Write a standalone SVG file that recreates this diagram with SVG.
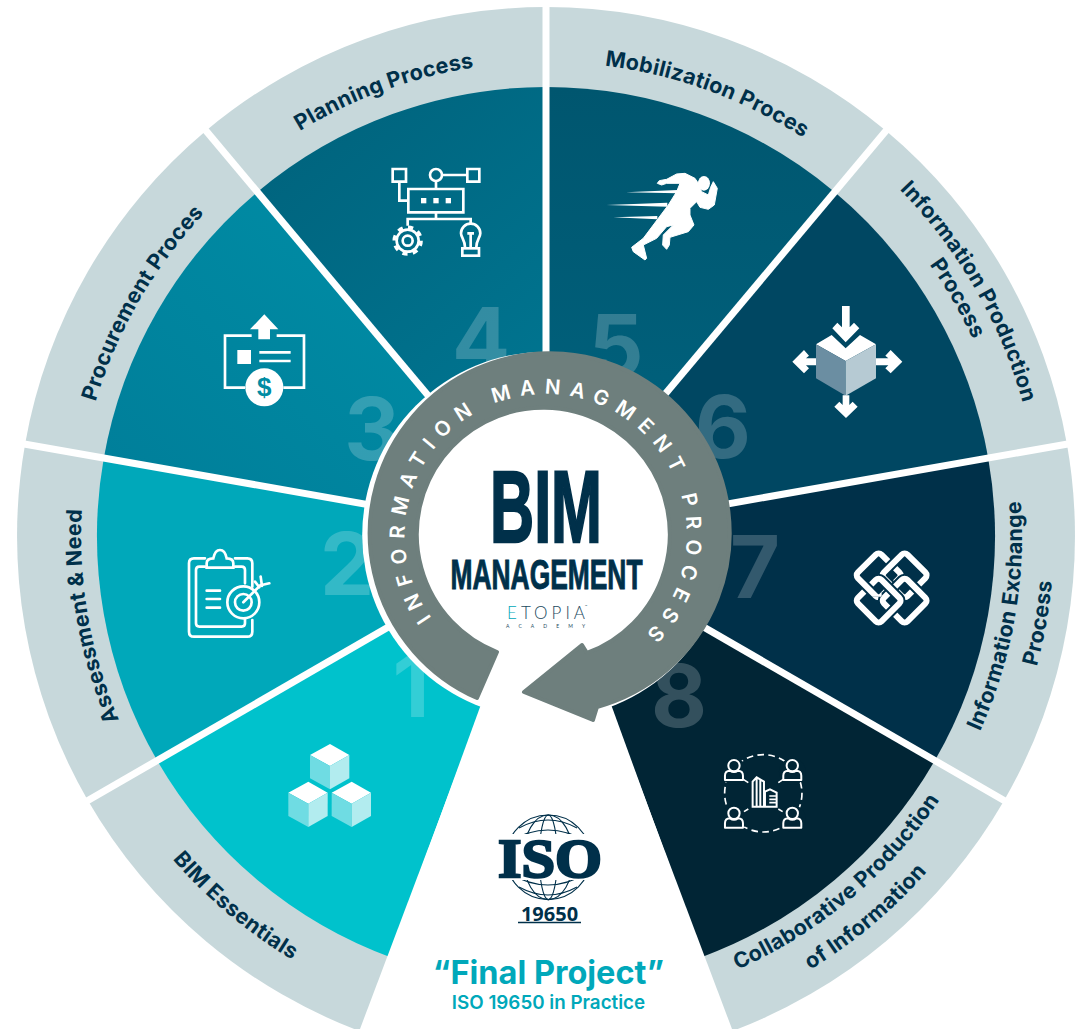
<svg xmlns="http://www.w3.org/2000/svg" width="1085" height="1029" viewBox="0 0 1085 1029">
<style>
.band{fill:#c7d8db}
.lab{font-family:"Inter","Noto Sans",sans-serif;font-weight:700;font-size:21.5px;letter-spacing:.3px;fill:#00304a;text-anchor:middle}
.num{font-family:"Inter","Noto Sans",sans-serif;font-weight:700;font-size:86px;fill:#fff;fill-opacity:.2;text-anchor:middle}
.ln{fill:none;stroke:#fff;stroke-width:8;stroke-linejoin:miter}
.wf{fill:#fff}
.halo{fill:none;stroke:#003049;stroke-width:30}
.loop{fill:none;stroke:#fff;stroke-width:18}
</style>
<defs>
<path id="wb" d="M0,0 L0,-529 A529,529 0 0 1 340,-405.2 Z"/>
<path id="wc" d="M0,0 L0,-449 A449,449 0 0 1 288.6,-344 Z"/>
<path id="c474" d="M-304.7,-363.1 A474,474 0 0 1 304.7,-363.1"/>
<path id="c470" d="M-302.1,-360 A470,470 0 0 1 302.1,-360"/>
<path id="c465" d="M-298.9,-356.2 A465,465 0 0 1 298.9,-356.2"/>
<path id="c495" d="M-318.2,-379.2 A495,495 0 0 1 318.2,-379.2"/>
<path id="a494" d="M-317.5,378.4 A494,494 0 0 0 317.5,378.4"/>
<path id="a474" d="M-304.7,363.1 A474,474 0 0 0 304.7,363.1"/>
<path id="a508" d="M-326.5,389.1 A508,508 0 0 0 326.5,389.1"/>
<path id="a476" d="M-306,364.6 A476,476 0 0 0 306,364.6"/>
<path id="ringp" d="M-24.5,138.9 A141,141 0 1 1 24.5,138.9"/>
<linearGradient id="g3" x1="0" y1="0" x2="1" y2="1"><stop offset="0" stop-color="#007f9a"/><stop offset="1" stop-color="#0090a8"/></linearGradient>
<linearGradient id="g4" x1="0" y1="0" x2="0" y2="1"><stop offset="0" stop-color="#00657f"/><stop offset="1" stop-color="#007a96"/></linearGradient>
<linearGradient id="g5" x1="0" y1="0" x2="0" y2="1"><stop offset="0" stop-color="#00566f"/><stop offset="1" stop-color="#006480"/></linearGradient>
<clipPath id="gl"><rect x="500" y="805" width="100" height="29"/><rect x="500" y="880" width="100" height="30"/></clipPath>
<clipPath id="weave"><rect x="215" y="870" width="90" height="50"/></clipPath>
<rect id="lp" x="-50" y="-50" width="100" height="100" rx="12"/>
<g id="cube">
<polygon points="180,42 238,75 180,108 120,75" fill="#fff"/>
<polygon points="120,75 180,108 180,178 120,145" fill="#6fdce3"/>
<polygon points="180,108 238,75 238,145 180,178" fill="#b2ecef"/>
</g>
<g id="person" fill="none" stroke="#fff" stroke-width="6">
<circle cx="0" cy="-15" r="17"/>
<path d="M-27,28 V15 Q-27,0 -12,0 Q0,8 12,0 Q27,0 27,15 V28 Z" stroke-linejoin="round"/>
</g>
</defs>
<rect width="1085" height="1029" fill="#fff"/>

<g id="node-1">
<use href="#wb" class="band" transform="translate(546,536) rotate(-160)"/>
<use href="#wc" fill="#00c2cc" transform="translate(546,536) rotate(-160)"/>
<text class="num" x="411" y="717">1</text>
<text class="lab" transform="translate(546,536) rotate(40)"><textPath href="#a494" startOffset="50%">BIM Essentials</textPath></text>
<g transform="translate(270,730) scale(.3333)">
<use href="#cube"/><use href="#cube" x="-65" y="113"/><use href="#cube" x="65" y="113"/>
</g>
</g>

<g id="node-2">
<use href="#wb" class="band" transform="translate(546,536) rotate(-120)"/>
<use href="#wc" fill="#00a8ba" transform="translate(546,536) rotate(-120)"/>
<text class="num" x="347" y="595">2</text>
<text class="lab" transform="translate(546,536) rotate(-100)"><textPath href="#c465" startOffset="50%">Assessment &amp; Need</textPath></text>
<g transform="translate(170,300) scale(.3333)" fill="none" stroke="#fff" stroke-width="8" stroke-linecap="round">
<path d="M247,960 V995 Q247,1010 232,1010 H72 Q57,1010 57,995 V790 Q57,775 72,775 H105 M195,775 H232 Q247,775 247,790 V860"/>
<path d="M225,955 V970 Q225,980 215,980 H88 Q78,980 78,970 V810 Q78,800 88,800 H105 M195,800 H215 Q225,800 225,810 V850"/>
<path d="M110,803 V790 Q110,775 130,775 Q135,750 150,750 Q165,750 170,775 Q190,775 190,790 V803 Z"/>
<path d="M110,872 H150 M110,897 H150 M110,923 H150"/>
<circle cx="220" cy="907" r="48"/><circle cx="220" cy="907" r="25"/>
<path d="M220,907 L272,855 M255,845 L268,862 M272,830 L276,858 M298,850 L272,856"/>
</g>
</g>

<g id="node-3">
<use href="#wb" class="band" transform="translate(546,536) rotate(-80)"/>
<use href="#wc" fill="url(#g3)" transform="translate(546,536) rotate(-80)"/>
<text class="num" x="372" y="460">3</text>
<text class="lab" transform="translate(546,536) rotate(-60)"><textPath href="#c470" startOffset="50%">Procurement Proces</textPath></text>
<g transform="translate(170,300) scale(.3333)">
<path class="ln" d="M245,107 H165 V263 H225 M320,107 H402 V263 H340"/>
<polygon class="wf" points="283,43 325,88 300,88 300,118 265,118 265,88 240,88"/>
<rect class="wf" x="202" y="150" width="41" height="42"/>
<path class="ln" d="M268,157 H362 M268,183 H362"/>
<circle class="wf" cx="283" cy="262" r="57"/>
</g>
<text x="264.3" y="396" font-family="Liberation Sans,sans-serif" font-weight="700" font-size="26" fill="#008ca3" text-anchor="middle">$</text>
</g>

<g id="node-4">
<use href="#wb" class="band" transform="translate(546,536) rotate(-40)"/>
<use href="#wc" fill="url(#g4)" transform="translate(546,536) rotate(-40)"/>
<text class="num" x="481" y="370">4</text>
<text class="lab" transform="translate(546,536) rotate(-20)"><textPath href="#c474" startOffset="50%">Planning Process</textPath></text>
<g transform="translate(380,150) scale(.3333)">
<path class="ln" d="M38,57 H78 V95 H38 Z M262,57 H298 V95 H262 Z M187,75 H262 M58,95 V152 H85 M168,93 V117 M85,117 H250 V187 H85 Z M168,187 V207 M83,227 V207 H272 V222"/>
<circle class="ln" cx="168" cy="75" r="18"/>
<rect class="wf" x="123" y="144" width="16" height="16"/><rect class="wf" x="160" y="144" width="16" height="16"/><rect class="wf" x="197" y="144" width="16" height="16"/>
<circle class="ln" cx="83" cy="272" r="33"/><circle class="ln" cx="83" cy="272" r="15"/>
<circle cx="83" cy="272" r="40" fill="none" stroke="#fff" stroke-width="11" stroke-dasharray="15.4 16"/>
<path class="ln" d="M255,292 C255,270 243,262 243,250 A29,29 0 1 1 301,250 C301,262 289,270 289,292 M262,250 H282 M272,250 V295"/>
<rect class="ln" x="247" y="295" width="50" height="22"/>
</g>
</g>

<g id="node-5">
<use href="#wb" class="band" transform="translate(546,536) rotate(0)"/>
<use href="#wc" fill="url(#g5)" transform="translate(546,536) rotate(0)"/>
<text class="num" x="616" y="377">5</text>
<text class="lab" transform="translate(546,536) rotate(20)"><textPath href="#c474" startOffset="50%">Mobilization Proces</textPath></text>
<g transform="translate(380,150) scale(.3333)" fill="#fff">
<polygon points="738,127 893,120 893,130"/>
<polygon points="680,165 862,158 862,170"/>
<polygon points="700,202 832,198 832,208"/>
<ellipse cx="972" cy="100" rx="18" ry="22"/>
<path stroke="#fff" stroke-width="3" stroke-linejoin="round" d="M832,100 L838,92 L860,88 L890,72 L915,70 L945,85 L955,100 L965,125 L985,135 L992,112 L1000,95 L1012,115 L1003,165 L985,178 L960,172 L950,155 L930,175 L930,195 L942,225 L925,245 L870,262 L868,285 L860,298 L848,285 L850,255 L880,225 L860,230 L830,265 L790,285 L800,325 L795,330 L760,305 L755,292 L790,265 L835,205 L865,165 L890,125 L900,100 L860,100 L845,105 Z"/>
</g>
</g>

<g id="node-6">
<use href="#wb" class="band" transform="translate(546,536) rotate(40)"/>
<use href="#wc" fill="#004762" transform="translate(546,536) rotate(40)"/>
<text class="num" x="723" y="458">6</text>
<text class="lab" transform="translate(546,536) rotate(60)"><textPath href="#c495" startOffset="50%">Information Production</textPath></text>
<text class="lab" transform="translate(546,536) rotate(60)"><textPath href="#c470" startOffset="50%">Process</textPath></text>
<g transform="translate(780,290) scale(.3333)">
<polygon points="108,163 155,135 197,175 240,135 288,163 197,213" fill="#fff"/>
<polygon points="108,163 197,213 197,317 108,265" fill="#6b8ea2"/>
<polygon points="197,213 288,163 288,265 197,317" fill="#b6cad3"/>
<polygon class="wf" points="186,48 209,48 209,112 222,98 238,115 197,157 157,115 172,98 186,112"/>
<polygon class="wf" points="37,215 72,180 87,197 78,205 108,205 108,226 78,226 87,235 72,250"/>
<polygon class="wf" points="367,215 332,180 316,197 325,205 288,205 288,226 325,226 316,235 332,250"/>
<polygon class="wf" points="198,384 163,350 178,335 188,345 188,316 208,316 208,345 218,335 233,350"/>
</g>
</g>

<g id="node-7">
<use href="#wb" class="band" transform="translate(546,536) rotate(80)"/>
<use href="#wc" fill="#003049" transform="translate(546,536) rotate(80)"/>
<text class="num" x="755" y="598">7</text>
<text class="lab" transform="translate(546,536) rotate(-80)"><textPath href="#a476" startOffset="50%">Information Exchange</textPath></text>
<text class="lab" transform="translate(546,536) rotate(-80)"><textPath href="#a508" startOffset="50%">Process</textPath></text>
<g transform="translate(780,290) scale(.3333)">
<use href="#lp" class="loop" transform="translate(296,856) rotate(45)"/>
<use href="#lp" class="halo" transform="translate(374,856) rotate(45)"/>
<use href="#lp" class="loop" transform="translate(374,856) rotate(45)"/>
<use href="#lp" class="halo" transform="translate(374,932) rotate(45)"/>
<use href="#lp" class="loop" transform="translate(374,932) rotate(45)"/>
<use href="#lp" class="halo" transform="translate(296,932) rotate(45)"/>
<use href="#lp" class="loop" transform="translate(296,932) rotate(45)"/>
<g clip-path="url(#weave)">
<use href="#lp" class="halo" transform="translate(296,856) rotate(45)"/>
<use href="#lp" class="loop" transform="translate(296,856) rotate(45)"/>
</g>
</g>
</g>

<g id="node-8">
<use href="#wb" class="band" transform="translate(546,536) rotate(120)"/>
<use href="#wc" fill="#012535" transform="translate(546,536) rotate(120)"/>
<text class="num" x="679" y="727">8</text>
<text class="lab" transform="translate(546,536) rotate(-40)"><textPath href="#a474" startOffset="50%">Collaborative Production</textPath></text>
<text class="lab" transform="translate(546,536) rotate(-40)"><textPath href="#a508" startOffset="50%">of Information</textPath></text>
<g transform="translate(410,740) scale(.3333)">
<circle cx="1060" cy="160" r="116" fill="none" stroke="#fff" stroke-width="5" stroke-dasharray="20 13"/>
<g fill="#012535"><circle cx="972" cy="95" r="40"/><circle cx="1147" cy="95" r="40"/><circle cx="972" cy="235" r="40"/><circle cx="1147" cy="235" r="40"/></g>
<use href="#person" x="972" y="92"/><use href="#person" x="1147" y="92"/><use href="#person" x="972" y="235"/><use href="#person" x="1147" y="235"/>
<path d="M1000,118 L1015,128 M1120,118 L1105,128 M1002,215 L1015,207 M1118,215 L1105,207" stroke="#fff" stroke-width="5"/>
<path d="M1028,200 V125 L1040,112 L1062,125 V200 Z M1040,112 V200 M1051,120 V200 M1065,200 V155 L1080,148 L1100,158 V200 Z" fill="none" stroke="#fff" stroke-width="6"/>
<path d="M1078,168 H1098 M1078,178 H1098 M1078,188 H1098" stroke="#fff" stroke-width="5"/>
</g>
</g>

<g id="dividers" stroke="#fff" stroke-width="7">
<line x1="0" y1="0" x2="0" y2="-540" transform="translate(546,536)"/>
<line x1="0" y1="0" x2="0" y2="-540" transform="translate(546,536) rotate(-40)"/>
<line x1="0" y1="0" x2="0" y2="-540" transform="translate(546,536) rotate(-80)"/>
<line x1="0" y1="0" x2="0" y2="-540" transform="translate(546,536) rotate(-120)"/>
<line x1="0" y1="0" x2="0" y2="-540" transform="translate(546,536) rotate(-160)"/>
<line x1="0" y1="0" x2="0" y2="-540" transform="translate(546,536) rotate(40)"/>
<line x1="0" y1="0" x2="0" y2="-540" transform="translate(546,536) rotate(80)"/>
<line x1="0" y1="0" x2="0" y2="-540" transform="translate(546,536) rotate(120)"/>
<line x1="0" y1="0" x2="0" y2="-540" transform="translate(546,536) rotate(160)"/>
</g>

<g id="final-project">
<polygon points="546,536 360,1029 732,1029" fill="#fff"/>
<g clip-path="url(#gl)" fill="none" stroke="#00304a" stroke-width="1.1">
<circle cx="548.3" cy="857.3" r="42.3"/>
<ellipse cx="548.3" cy="857.3" rx="25" ry="42.3"/>
<ellipse cx="548.3" cy="857.3" rx="9" ry="42.3"/>
<path d="M519,828 Q548,812 577,828 M509,842 Q548,818 587,842 M509,873 Q548,897 587,873 M519,887 Q548,903 577,887"/>
</g>
<text x="498" y="876.5" textLength="104" lengthAdjust="spacingAndGlyphs" font-family="Liberation Serif,serif" font-weight="700" font-size="55" fill="#00304a" stroke="#00304a" stroke-width="2.4">ISO</text>
<text x="549.5" y="921" font-family="Open Sans,sans-serif" font-weight="700" font-size="20" fill="#00304a" text-anchor="middle">19650</text>
<line x1="518" y1="922.5" x2="581" y2="922.5" stroke="#00304a" stroke-width="1.4"/>
<text x="548.5" y="984" font-family="Inter,sans-serif" font-weight="700" font-size="32.5" fill="#00a8ba" text-anchor="middle">“Final Project”</text>
<text x="548.5" y="1009" font-family="Inter,sans-serif" font-weight="600" font-size="18.8" fill="#00a8ba" text-anchor="middle">ISO 19650 in Practice</text>
</g>

<g id="center">
<circle cx="545.7" cy="535.3" r="183.5" fill="#fff"/>
<path d="M497,652 A126.5,126.5 0 1 1 587,653 L582,645 L524,692 L593,720 L597,707 A180,180 0 1 0 477,698 Z" fill="#6e7f7d" stroke="#6e7f7d" stroke-width="4" stroke-linejoin="round"/>
<text transform="translate(545.7,535) rotate(6)" font-family="Inter,sans-serif" font-weight="600" font-size="20.5" fill="#fff" text-anchor="middle" letter-spacing="8.9"><textPath href="#ringp" startOffset="50%">INFORMATION MANAGMENT PROCESS</textPath></text>
<text x="490" y="542" textLength="112" lengthAdjust="spacingAndGlyphs" font-family="Liberation Sans,sans-serif" font-weight="700" font-size="102" fill="#00304a" stroke="#00304a" stroke-width="2.4">BIM</text>
<text x="450.5" y="588.5" textLength="192" lengthAdjust="spacingAndGlyphs" font-family="Liberation Sans,sans-serif" font-weight="700" font-size="43" fill="#00304a" stroke="#00304a" stroke-width="1">MANAGEMENT</text>
<text x="507" y="619" textLength="78" font-family="Lato,sans-serif" font-weight="300" font-size="17" fill="#1b4a60"><tspan fill="#00a8ba">E</tspan>TOPIA</text>
<text x="585" y="607" font-family="Lato,sans-serif" font-size="3" fill="#1b4a60">™</text>
<text x="506" y="628" textLength="79" font-family="Lato,sans-serif" font-size="5" fill="#1b4a60">ACADEMY</text>
</g>
</svg>
